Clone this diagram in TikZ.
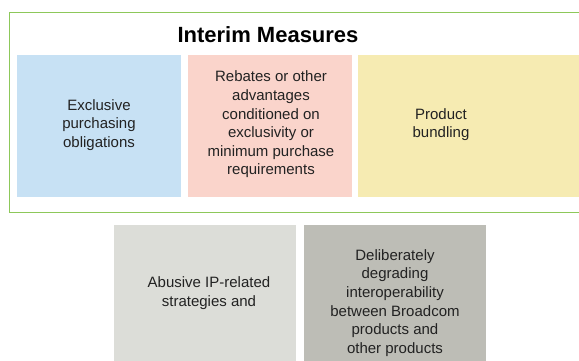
\documentclass[tikz,border=0pt]{standalone}
\usepackage{fontspec}
\setmainfont{Liberation Sans}
\definecolor{frameGreen}{HTML}{8DC85A}
\definecolor{boxBlue}{HTML}{C7E1F4}
\definecolor{boxPink}{HTML}{FAD4CB}
\definecolor{boxYellow}{HTML}{F6EBB2}
\definecolor{boxLightGray}{HTML}{DCDDD8}
\definecolor{boxDarkGray}{HTML}{BDBDB6}
\definecolor{inkGray}{HTML}{222222}
\tikzset{
  panel/.style={fill=#1, draw=none, inner sep=0pt},
  caption/.style={align=center, text=inkGray, inner sep=0pt,
    font=\fontsize{15}{18.6}\selectfont},
  heading/.style={inner sep=0pt, font=\fontsize{22}{26}\selectfont\bfseries},
}
\begin{document}
\begin{tikzpicture}[x=1pt, y=-1pt]
  \useasboundingbox (0,0) rectangle (579,360);
  \clip (0,0) rectangle (579,360);
  % outer frame of the interim measures group
  \node[draw=frameGreen, line width=1.4pt, inner sep=0pt, anchor=north west,
        minimum width=600pt, minimum height=200pt] (frame) at (8.5,11.5) {};
  \node[heading] (title) at (268,35) {Interim Measures};
  % coloured measure panels
  \node[panel=boxBlue, anchor=north west, minimum width=164pt, minimum height=142pt] (blue) at (17,55) {};
  \node[panel=boxPink, anchor=north west, minimum width=164pt, minimum height=142pt] (pink) at (188,55) {};
  \node[panel=boxYellow, anchor=north west, minimum width=240pt, minimum height=142pt] (yellow) at (358,55) {};
  \node[caption] (blueText) at (99,125) {Exclusive\\purchasing\\obligations};
  \node[caption] (pinkText) at (271,124.5) {Rebates or other\\advantages\\conditioned on\\exclusivity or\\minimum purchase\\requirements};
  \node[caption] (yellowText) at (441,124.5) {Product\\bundling};
  % panels below the frame
  \node[panel=boxLightGray, anchor=north west, minimum width=182pt, minimum height=150pt] (ipBox) at (114,225) {};
  \node[panel=boxDarkGray, anchor=north west, minimum width=182pt, minimum height=150pt] (interopBox) at (304,225) {};
  \node[caption] (ipText) at (209,293) {Abusive IP-related\\strategies and};
  \node[caption] (interopText) at (395,303) {Deliberately\\degrading\\interoperability\\between Broadcom\\products and\\other products};
\end{tikzpicture}
\end{document}
